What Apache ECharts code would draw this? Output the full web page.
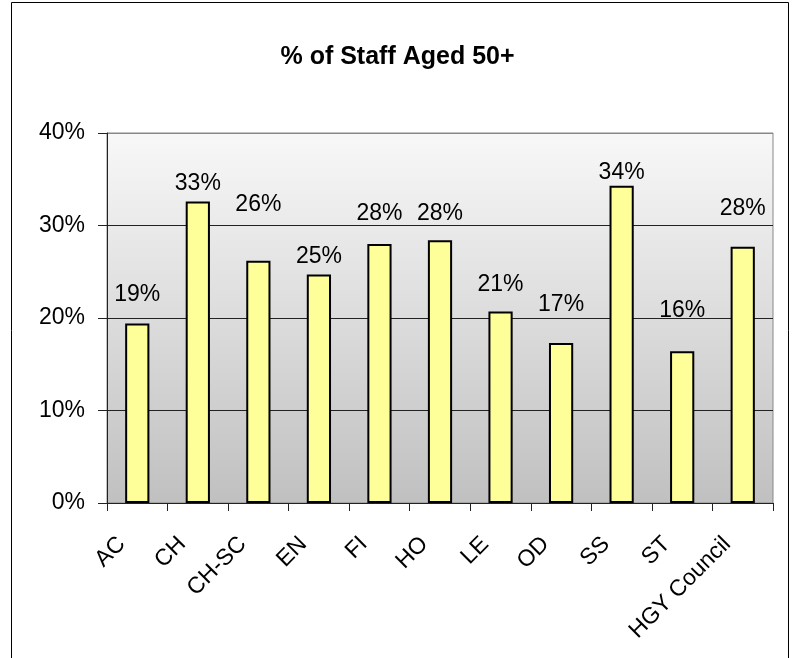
<!DOCTYPE html>
<html>
<head>
<meta charset="utf-8">
<title>% of Staff Aged 50+</title>
<script src="https://cdn.jsdelivr.net/npm/echarts@6/dist/echarts.min.js"></script>
<style>
  html, body { margin: 0; padding: 0; background: #ffffff; }
  #chart { width: 795px; height: 658px; }
</style>
</head>
<body>
<div id="chart"></div>
<script>
// Departments along the category axis
const departments = ['AC', 'CH', 'CH-SC', 'EN', 'FI', 'HO', 'LE', 'OD', 'SS', 'ST', 'HGY Council'];

// Share of staff aged 50 and over, in percent
const staffAged50Plus = [19.4, 32.6, 26.2, 24.7, 28.0, 28.4, 20.7, 17.3, 34.3, 16.4, 27.7];

// Value axis ticks (percent)
const yTicks = [0, 10, 20, 30, 40];

// Gap between each bar top and its value label (px)
const labelGap = [17, 6, 44, 6, 19, 15, 15, 27, 2, 29, 27];

const FONT = '"Liberation Sans", Arial, sans-serif';

const chart = echarts.init(document.getElementById('chart'), null, { renderer: 'canvas' });

const barData = staffAged50Plus.map((v, i) => ({
  value: v,
  label: { distance: labelGap[i] }
}));

chart.setOption({
  backgroundColor: '#ffffff',
  animation: false,
  title: {
    text: '% of Staff Aged 50+',
    left: 'center',
    top: 40,
    textStyle: { fontFamily: FONT, fontSize: 25, fontWeight: 'bold', color: '#000000' }
  },
  graphic: [{
    type: 'rect',
    shape: { x: 11.5, y: 2.5, width: 777, height: 700 },
    style: { fill: 'none', stroke: '#000000', lineWidth: 1 },
    silent: true,
    z: -1
  }],
  grid: {
    left: 107,
    right: 22,
    top: 133,
    bottom: 155,
    show: true,
    borderColor: '#888888',
    borderWidth: 1,
    backgroundColor: new echarts.graphic.LinearGradient(0, 0, 0, 1, [
      { offset: 0, color: '#f8f8f8' },
      { offset: 1, color: '#c0c0c0' }
    ])
  },
  xAxis: {
    type: 'category',
    data: departments,
    boundaryGap: true,
    axisLine: { show: true, lineStyle: { color: '#222222', width: 1 } },
    axisTick: { show: true, length: 8, alignWithLabel: false, lineStyle: { color: '#222222' } },
    axisLabel: {
      interval: 0,
      rotate: 45,
      margin: 22,
      fontFamily: FONT,
      fontSize: 23,
      color: '#000000',
      padding: [0, 22, 0, 0]
    },
    splitLine: { show: false }
  },
  yAxis: {
    type: 'value',
    min: yTicks[0],
    max: yTicks[yTicks.length - 1],
    interval: yTicks[1] - yTicks[0],
    axisLine: { show: true, lineStyle: { color: '#222222', width: 1 } },
    axisTick: { show: true, length: 9, lineStyle: { color: '#222222' } },
    axisLabel: {
      formatter: '{value}%',
      margin: 22,
      fontFamily: FONT,
      fontSize: 23,
      color: '#000000'
    },
    splitLine: {
      show: true,
      lineStyle: { color: ['#222222', '#222222', '#222222', '#222222', '#888888'], width: 1 }
    }
  },
  series: [{
    type: 'bar',
    data: barData,
    barWidth: '40%',
    itemStyle: { color: '#ffff99', borderColor: '#000000', borderWidth: 2 },
    label: {
      show: true,
      position: 'top',
      formatter: p => Math.round(p.value) + '%',
      fontFamily: FONT,
      fontSize: 23,
      color: '#000000'
    }
  }]
});
</script>
</body>
</html>
